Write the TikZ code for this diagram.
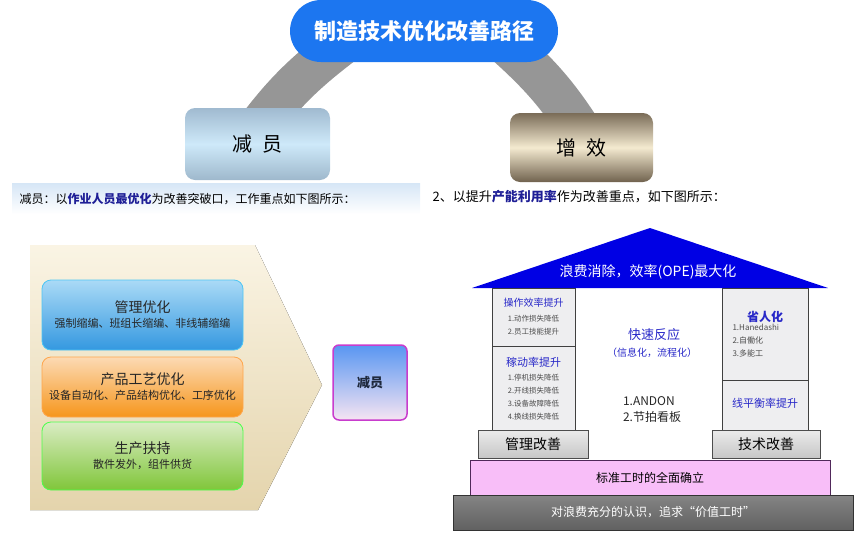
\documentclass[tikz,border=0pt]{standalone}
\usepackage{fontspec}
\setmainfont{Noto Sans CJK SC}
\usetikzlibrary{backgrounds}
\newcommand{\fs}[1]{\fontsize{#1}{#1}\selectfont}
\begin{document}
\begin{tikzpicture}[x=1pt,y=-1pt,
    band/.style={line width=42pt,draw=bandGray},
    stage/.style={draw=#1!70,line width=0.8pt,rounded corners=9pt,minimum width=201pt,align=center,text=black!85},
    colbox/.style={draw=black!75,line width=0.6pt,fill=colFill,inner sep=0pt},
    blu/.style={text=houseBlue},
    item/.style={text=black!70,align=left,font=\fontsize{7.5}{13}\selectfont},
    basebox/.style={draw=black!70,line width=0.8pt,top color=black!8,bottom color=black!22,inner sep=0pt}]
    \definecolor{titleBlue}{RGB}{28,118,240}
    \definecolor{bandGray}{RGB}{150,150,150}
    \definecolor{hdrBlue}{RGB}{214,230,246}
    \definecolor{hdrNavy}{RGB}{30,30,150}
    \definecolor{arrTop}{RGB}{250,244,228}
    \definecolor{arrBot}{RGB}{228,212,172}
    \definecolor{roofBlue}{RGB}{0,0,228}
    \definecolor{houseBlue}{RGB}{40,40,200}
    \definecolor{colFill}{RGB}{238,238,240}
    \definecolor{pinkBar}{RGB}{248,190,248}
    \useasboundingbox (0,0) rectangle (855,536);

    % top: title and the two paths
    \node[fill=titleBlue,rounded corners=31pt,minimum width=268pt,minimum height=62pt,text=white] (title) at (424,31) {\fs{22}\bfseries 制造技术优化改善路径};
    \node[rounded corners=10pt,minimum width=145pt,minimum height=72pt,top color={rgb,255:red,160;green,186;blue,208},bottom color={rgb,255:red,158;green,184;blue,204},middle color={rgb,255:red,206;green,233;blue,249}] (cut) at (257.5,144) {\fs{20}减\hspace{0.5em}员};
    \node[rounded corners=10pt,minimum width=143pt,minimum height=69pt,top color={rgb,255:red,122;green,108;blue,88},bottom color={rgb,255:red,112;green,98;blue,78},middle color={rgb,255:red,244;green,234;blue,208}] (gain) at (581.5,147.5) {\fs{20}增\hspace{0.5em}效};
    \begin{pgfonlayer}{background}
        \draw[band] ([shift={(51,-17)}]title.south west) to[bend right=8] ([shift={(-5,27)}]cut.north);
        \draw[band] ([shift={(-51,-17)}]title.south east) to[bend left=8] ([shift={(5,27)}]gain.north);
    \end{pgfonlayer}

    % headers
    \fill[top color=hdrBlue,bottom color=white] (12,183) rectangle (420,214);
    \node[anchor=west] (lhdr) at (16,199) {\fs{12}减员：以\textcolor{hdrNavy}{\bfseries 作业人员最优化}为改善突破口，工作重点如下图所示：};
    \node[anchor=west] (rhdr) at (429,197) {\fs{13}2、以提升\textcolor{hdrNavy}{\bfseries 产能利用率}作为改善重点，如下图所示：};

    % left: chevron with three measures
    \fill[top color=arrTop,bottom color=arrBot] (30,245) -- (255,245) -- (322,385) -- (258,510) -- (30,510) -- cycle;
    \node[stage=cyan,minimum height=70pt,top color={rgb,255:red,170;green,218;blue,246},bottom color={rgb,255:red,52;green,152;blue,224}] (mgmt) at (142.5,315) {{\fs{14}管理优化}\\[3pt]{\fs{11}强制缩编、班组长缩编、非线辅缩编}};
    \node[stage=orange,minimum height=60pt,top color={rgb,255:red,252;green,218;blue,180},bottom color={rgb,255:red,246;green,150;blue,28}] (craft) at (142.5,387) {{\fs{14}产品工艺优化}\\[3pt]{\fs{11}设备自动化、产品结构优化、工序优化}};
    \node[stage=green,minimum height=68pt,top color={rgb,255:red,218;green,236;blue,196},bottom color={rgb,255:red,128;green,198;blue,58}] (prod) at (142.5,456) {{\fs{14}生产扶持}\\[3pt]{\fs{11}散件发外，组件供货}};
    \node[draw={rgb,255:red,200;green,60;blue,205},line width=1.5pt,rounded corners=6pt,minimum width=74pt,minimum height=75pt,top color={rgb,255:red,88;green,150;blue,242},bottom color={rgb,255:red,246;green,228;blue,242},text={rgb,255:red,30;green,40;blue,60}] (cut2) at (370,382.5) {\fs{13}\bfseries 减员};

    % right: house
    \fill[roofBlue] (472,288) -- (650,228) -- (828,288) -- cycle;
    \node[text=white] (roof) at (648,272) {\fs{14}浪费消除，效率(OPE)最大化};
    \node[colbox,minimum width=83pt,minimum height=58pt] (opbox) at (533.5,317) {};
    \node[colbox,minimum width=83pt,minimum height=84pt] (avbox) at (533.5,388) {};
    \node[colbox,minimum width=86pt,minimum height=92pt] (svbox) at (765,334) {};
    \node[colbox,minimum width=86pt,minimum height=50pt] (lbbox) at (765,405) {};
    \node[blu] (opT) at (533.5,303) {\fs{10}操作效率提升};
    \node[item] (opI) at (533.5,325) {1.动作损失降低\\2.员工技能提升};
    \node[blu] (avT) at (533.5,362) {\fs{11}稼动率提升};
    \node[item] (avI) at (533.5,397.5) {1.停机损失降低\\2.开线损失降低\\3.设备故障降低\\4.换线损失降低};
    \node[blu] (svT) at (765,317) {\fs{12}\bfseries 省人化};
    \node[item,anchor=west,font=\fontsize{8}{13}\selectfont] (svI) at (729,341) {1.Hanedashi\\2.自働化\\3.多能工};
    \node[blu] (lbT) at (765,403) {\fs{11}线平衡率提升};
    \node[blu] (qrT) at (654,335) {\fs{13}快速反应};
    \node[blu] (qrS) at (652,353) {\fs{10}（信息化，流程化）};
    \node[align=left,text=black!85,font=\fontsize{12}{16}\selectfont] (qrI) at (652,410) {1.ANDON\\2.节拍看板};
    \node[basebox,minimum width=110pt,minimum height=28pt] (mgImp) at (533,444) {\fs{14}管理改善};
    \node[basebox,minimum width=108pt,minimum height=28pt] (tcImp) at (766,444) {\fs{14}技术改善};
    \node[draw={rgb,255:red,80;green,40;blue,90},line width=1pt,fill=pinkBar,minimum width=360pt,minimum height=35pt,inner sep=0pt] (std) at (650,477.5) {\fs{12}标准工时的全面确立};
    \node[draw=black!80,line width=1pt,top color=black!48,bottom color=black!62,minimum width=400pt,minimum height=35pt,inner sep=0pt,text=white] (base) at (653,512.5) {\fs{12}对浪费充分的认识，追求“价值工时”};
\end{tikzpicture}
\end{document}
